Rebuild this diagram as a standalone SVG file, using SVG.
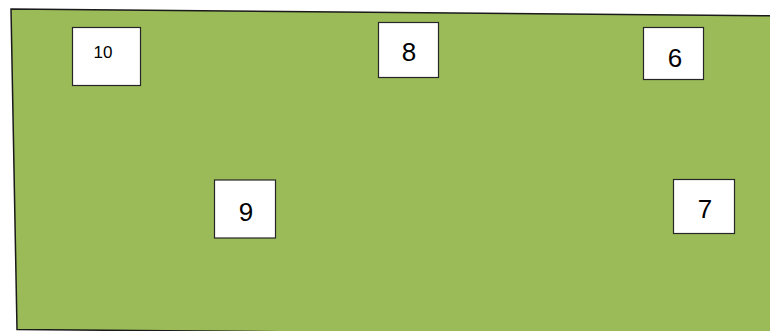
<svg xmlns="http://www.w3.org/2000/svg" width="770" height="331" viewBox="0 0 770 331">
<style>
.bg{fill:#9BBB59;stroke:#1a1a1a;stroke-width:1.5}
.box{fill:#ffffff;stroke:#262626;stroke-width:1.2}
.lbl{font-family:"Liberation Sans",Arial,sans-serif;font-size:26px;fill:#000;text-anchor:middle}
.sm{font-size:17px}
</style>
<rect width="770" height="331" fill="#ffffff"/>
<polygon class="bg" points="11,9 780,15.8 780,336 17,329.5"/>
<g id="node-10"><rect class="box" x="72.5" y="27.5" width="68" height="58"/><text class="lbl sm" x="103" y="58">10</text></g>
<g id="node-8"><rect class="box" x="378.5" y="22.5" width="60" height="55"/><text class="lbl" x="409" y="61">8</text></g>
<g id="node-6"><rect class="box" x="643.5" y="27.5" width="60" height="52"/><text class="lbl" x="675" y="66.5">6</text></g>
<g id="node-9"><rect class="box" x="214.5" y="180" width="61" height="58"/><text class="lbl" x="246" y="221">9</text></g>
<g id="node-7"><rect class="box" x="673.5" y="179.5" width="61" height="54"/><text class="lbl" x="705" y="218">7</text></g>
<g id="connectors"></g>
</svg>
